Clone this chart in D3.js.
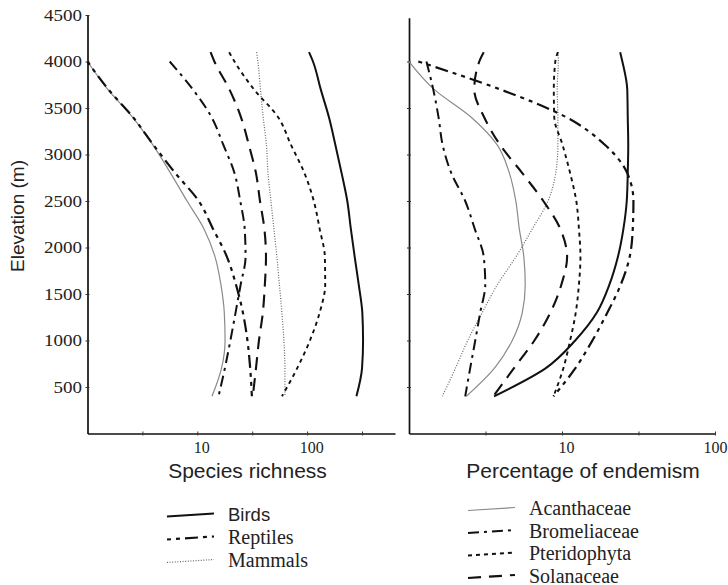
<!DOCTYPE html>
<html>
<head>
<meta charset="utf-8">
<script src="https://cdn.jsdelivr.net/npm/d3@7"></script>
<style>
  body { margin: 0; background: #fff; }
  svg { display: block; }
</style>
</head>
<body>
<svg id="chart" width="728" height="585"></svg>
<script>
const elevation = [400, 700, 1000, 1300, 1600, 1900, 2200, 2500, 2800, 3100, 3400, 3700, 4000, 4100];

// species richness (left panel), null = curve not drawn there
const richBirds = [281, 316, 323, 318, 295, 271, 250, 232, 206, 181, 158, 133, 113, 104];
const richReptiles = [31.4, 30.3, 28.6, 26, 22.5, 18.6, 13.9, 10.3, 6.3, 4.0, 2.6, 1.55, 1.0, null];
const richMammals = [62.8, 62.8, 61.4, 58.9, 55.9, 53, 49.8, 46.8, 44, 42.6, 39.8, 37.6, 35.6, 34.7];
const richAcanthaceae = [13.6, 16.6, 17.9, 17.6, 16.4, 14.5, 11.5, 8.06, 5.7, 3.95, 2.58, 1.53, 1.0, null];
const richBromeliaceae = [15.6, 17.8, 20, 22.3, 24.8, 27.5, 27, 24.6, 21.8, 17.3, 13.5, 9.1, 5.6, null];
const richPteridophyta = [59, 81, 106, 130, 146, 145, 130, 115, 94.5, 71.5, 54.5, 32.8, 21.8, 19.5];
const richSolanaceae = [32, 34.2, 36.4, 39.5, 41.2, 42.2, 40.8, 37.2, 34.2, 29.5, 25, 19.6, 14.3, 13.2];

// percentage of endemism (right panel)
const endBirds = [3.6, 7.8, 12.2, 16.9, 20.4, 23.2, 25.2, 26.5, 26.9, 27.1, 26.9, 26.7, 24.8, 24];
const endReptiles = [8.8, 12.2, 15.8, 19.8, 24.2, 27.7, 29, 29.3, 26.7, 19.2, 10.7, 3.95, 1.15, null];
const endMammals = [1.65, 2.01, 2.42, 3.01, 3.78, 5.0, 6.4, 8.1, 9.1, 9.4, 9.4, 9.3, 9.46, 9.46];
const endAcanthaceae = [2.37, 3.61, 4.73, 5.5, 5.75, 5.63, 5.26, 4.99, 4.53, 3.78, 2.55, 1.46, 1.0, null];
const endBromeliaceae = [2.33, 2.51, 2.71, 2.92, 3.15, 3.08, 2.69, 2.33, 1.89, 1.66, 1.56, 1.44, 1.3, null];
const endPteridophyta = [8.8, 10.2, 11.3, 12.3, 12.9, 13.2, 12.9, 12.4, 11.3, 10.1, 8.9, 8.84, 9.04, 9.4];
const endSolanaceae = [3.56, 4.84, 6.6, 8.4, 9.9, 10.8, 9.75, 7.55, 5.5, 3.95, 3.1, 2.67, 2.88, 3.08];

// axis ticks
const yTicks = [500, 1000, 1500, 2000, 2500, 3000, 3500, 4000, 4500];
const xTicksLeft = [3.162, 10, 31.62, 100, 316.2];
const xTicksRight = [3.162, 10, 31.62, 100];
const xTickLabels = [10, 100];

// legend groups
const legendAnimals = ["Birds", "Reptiles", "Mammals"];
const legendPlants = ["Acanthaceae", "Bromeliaceae", "Pteridophyta", "Solanaceae"];

const serif = '"Liberation Serif", "Times New Roman", serif';
const sans = '"Liberation Sans", Arial, sans-serif';

// line look per group
const styles = {
  Birds:        { color: "#111", width: 2,   dash: null },
  Reptiles:     { color: "#111", width: 2.2, dash: "4,5,4,5,13,5" },
  Mammals:      { color: "#666", width: 1.2, dash: "1,1.6" },
  Acanthaceae:  { color: "#8a8a8a", width: 1.2, dash: null },
  Bromeliaceae: { color: "#111", width: 2,   dash: "11,5,3,5" },
  Pteridophyta: { color: "#111", width: 1.9, dash: "4,4" },
  Solanaceae:   { color: "#111", width: 2.1, dash: "13,8" }
};

const svg = d3.select("#chart");

const y = d3.scaleLinear().domain([0, 4500]).range([433.5, 15]);
const xLeft = d3.scaleLog().domain([1, Math.pow(10, 2.8)]).range([87.5, 395]);
const xRight = d3.scaleLog().domain([1, 100]).range([409, 715]);
const yRight = d3.scaleLinear().domain([0, 4470]).range([y(0), y(4470)]);

const leftSeries = [
  { name: "Acanthaceae", values: richAcanthaceae },
  { name: "Mammals", values: richMammals },
  { name: "Reptiles", values: richReptiles },
  { name: "Bromeliaceae", values: richBromeliaceae },
  { name: "Solanaceae", values: richSolanaceae },
  { name: "Pteridophyta", values: richPteridophyta },
  { name: "Birds", values: richBirds }
];
const rightSeries = [
  { name: "Acanthaceae", values: endAcanthaceae },
  { name: "Mammals", values: endMammals },
  { name: "Reptiles", values: endReptiles },
  { name: "Bromeliaceae", values: endBromeliaceae },
  { name: "Solanaceae", values: endSolanaceae },
  { name: "Pteridophyta", values: endPteridophyta },
  { name: "Birds", values: endBirds }
];

function drawCurves(x, series) {
  const line = d3.line()
    .defined(d => d[1] != null)
    .x(d => x(d[1]))
    .y(d => y(d[0]))
    .curve(d3.curveMonotoneY);

  series.forEach(s => {
    const st = styles[s.name];
    // top to bottom so screen y goes up
    const pts = elevation.map((e, i) => [e, s.values[i]]).reverse();
    svg.append("path")
      .datum(pts)
      .attr("d", line)
      .attr("fill", "none")
      .attr("stroke", st.color)
      .attr("stroke-width", st.width)
      .attr("stroke-dasharray", st.dash)
      .attr("stroke-linecap", "butt");
  });
}

function styleAxis(g) {
  g.select(".domain").attr("stroke", "#111").attr("stroke-width", 1.7);
  g.selectAll(".tick line").attr("stroke", "#333");
  g.selectAll(".tick text").attr("font-family", serif).attr("fill", "#222");
}

// left y axis with labels
const gy = svg.append("g")
  .attr("transform", `translate(${xLeft.range()[0]},0)`)
  .call(d3.axisLeft(y).tickValues(yTicks).tickSize(2).tickSizeOuter(0).tickPadding(3.5).tickFormat(d3.format("d")));
styleAxis(gy);
gy.selectAll(".tick line").attr("x1", 2);
gy.selectAll(".tick text")
  .attr("font-size", 16)
  .attr("textLength", d => String(d).length * 9.5)
  .attr("lengthAdjust", "spacingAndGlyphs");

// right y axis, no labels
const gy2 = svg.append("g")
  .attr("transform", `translate(${xRight.range()[0]},0)`)
  .call(d3.axisLeft(yRight).tickValues(yTicks.filter(v => v <= 4470)).tickSize(2).tickSizeOuter(0).tickFormat(""));
styleAxis(gy2);
gy2.selectAll(".tick line").attr("x1", 2);

// x axes
function xAxis(x, ticks, lastDx) {
  const g = svg.append("g")
    .attr("transform", `translate(0,${y(0)})`)
    .call(d3.axisBottom(x).tickValues(ticks).tickSize(2).tickSizeOuter(0).tickPadding(6)
      .tickFormat(d => xTickLabels.includes(d) ? d : ""));
  styleAxis(g);
  g.selectAll(".tick line").attr("y1", -2);
  g.selectAll(".tick text")
    .attr("font-size", 16)
    .attr("dx", (d, i) => i === ticks.length - 1 ? lastDx : 4);
  return g;
}
xAxis(xLeft, xTicksLeft, 4);
xAxis(xRight, xTicksRight, 0);

drawCurves(xLeft, leftSeries);
drawCurves(xRight, rightSeries);

// axis titles
svg.append("text")
  .attr("transform", "translate(24,216) rotate(-90)")
  .attr("text-anchor", "middle")
  .attr("font-family", sans).attr("font-size", 19).attr("fill", "#222")
  .text("Elevation (m)");

svg.append("text")
  .attr("x", 247.5).attr("y", 478)
  .attr("text-anchor", "middle")
  .attr("font-family", sans).attr("font-size", 21).attr("fill", "#222")
  .text("Species richness");

svg.append("text")
  .attr("x", 583).attr("y", 478)
  .attr("text-anchor", "middle")
  .attr("font-family", sans).attr("font-size", 21).attr("fill", "#222")
  .text("Percentage of endemism");

// legends
function legend(names, x0, y0, step) {
  names.forEach((name, i) => {
    const st = styles[name];
    const ly = y0 + i * step;
    svg.append("line")
      .attr("x1", x0).attr("x2", x0 + 47)
      .attr("y1", ly + 1.5).attr("y2", ly - 1.5)
      .attr("stroke", st.color)
      .attr("stroke-width", st.width)
      .attr("stroke-dasharray", st.dash);
    svg.append("text")
      .attr("x", x0 + 61).attr("y", ly + 6)
      .attr("font-family", name === "Birds" ? sans : serif)
      .attr("font-size", name === "Birds" ? 18.5 : 20)
      .attr("fill", "#222")
      .text(name);
  });
}
legend(legendAnimals, 167, 515, 23);
legend(legendPlants, 468, 509, 22.5);
</script>
</body>
</html>
